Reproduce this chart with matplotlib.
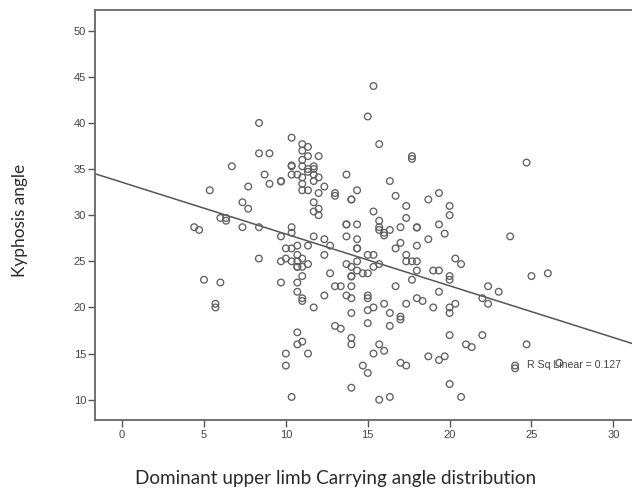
import matplotlib
matplotlib.use('Agg')
import matplotlib.pyplot as plt

# carrying angle / kyphosis angle
carrying = [8.36, 10.35, 11, 11.35, 11, 11.35, 12, 8.36, 9, 11, 6.7, 10.35, 10.35, 11, 11.7, 11.7, 11.35,
            11.35, 11.7, 8.7, 10.35, 10.7, 13.7, 12, 11, 11.7, 9.7, 9.7, 9, 7.7, 12.35, 11, 5.35, 11, 11.35,
            12, 13, 13, 7.35, 11.7, 7.7, 12, 11.7, 12, 14, 13.7, 6, 6.35, 6.35, 4.4, 4.7, 7.35, 8.36, 10.35,
            10.35, 9.7, 11.7, 12.35, 13.7,
            12.7, 11.35, 10.7, 10, 10.35, 12.35, 10.7, 8.35, 10, 11, 9.7, 10.35, 10.7, 10.7, 11.35, 13.7,
            10.7, 11, 12.7, 11, 9.7, 10.7, 13, 13.35, 5, 6, 10.7, 12.35, 13.7, 11, 11, 11.7, 5.7, 5.7, 13,
            13.35, 10.7, 11, 10.7, 10, 11.35, 10, 10.35,
            15.35, 15, 15.7, 17.7, 17.7, 24.7, 16.35, 14.35, 14, 16.7, 17.35, 18.7, 19.35, 20, 20, 15.35,
            17.35, 15.7, 15.7, 15.7, 16, 16, 16.35, 17, 18, 18, 19.35, 19.7, 23.7, 13.7, 14.35, 14.35, 17,
            18.7, 14.35, 14.35, 16.7, 18, 15, 15.35, 17.35, 17.35, 17.7, 18, 20.35, 20.7, 14.35, 14, 15.7,
            15.35, 14.35, 14.7, 15, 14, 14, 18, 19, 19.35, 17.7, 20, 20, 26, 25, 14, 16.7, 22.35, 23, 19.35,
            14, 15, 15, 22, 18, 18.35, 22.35, 20.35, 16, 17.35, 19, 20, 15.35, 15, 14, 16.35, 20, 17, 17,
            15, 16.35, 20, 22, 14, 14, 15.7, 16, 21, 21.35, 24.7, 15.35, 18.7, 19.35, 19.7, 17, 17.35, 26.7,
            24, 24, 14.7, 15, 14, 20, 15.7, 16.35, 20.7]
kyphosis = [40, 38.4, 37.7, 37.4, 37, 36.4, 36.4, 36.7, 36.7, 36, 35.3, 35.3, 35.4, 35.3, 35.3, 35, 35,
            34.7, 34.4, 34.4, 34.4, 34.4, 34.4, 34.1, 34.1, 33.7, 33.7, 33.65, 33.4, 33.1, 33.1, 33.4, 32.7,
            32.7, 32.7, 32.4, 32.4, 32.1, 31.4, 31.4, 30.7, 30.7, 30.4, 30, 31.7, 29, 29.7, 29.7, 29.4, 28.7,
            28.4, 28.7, 28.7, 28.7, 28.1, 27.7, 27.7, 27.4, 27.7,
            26.7, 26.7, 26.7, 26.4, 26.4, 25.7, 25.7, 25.3, 25.3, 25.3, 25, 25, 25, 24.4, 24.7, 24.7,
            24.4, 24.4, 23.7, 23.4, 22.7, 22.7, 22.3, 22.3, 23, 22.7, 21.7, 21.3, 21.3, 21, 20.7, 20, 20.4,
            20, 18, 17.7, 17.3, 16.3, 16, 15, 15, 13.7, 10.3,
            44, 40.7, 37.7, 36.4, 36.1, 35.7, 33.7, 32.7, 31.7, 32.1, 31, 31.7, 32.4, 31, 30, 30.4,
            29.7, 29.4, 28.7, 28.4, 28.1, 27.8, 28.4, 28.7, 28.7, 28.65, 29, 28, 27.7, 29, 29, 27.4, 27,
            27.4, 26.4, 26.4, 26.4, 26.7, 25.7, 25.7, 25.7, 25, 25, 25, 25.3, 24.7, 25, 24.4, 24.7,
            24.4, 24, 23.7, 23.7, 23.4, 23.35, 24, 24, 24, 23, 23.4, 23, 23.7, 23.4, 22.3, 22.3, 22.3, 21.7,
            21.7, 21, 21.3, 21, 21, 21, 20.7, 20.4, 20.4, 20.4, 20.4, 20, 20, 20, 19.7, 19.4, 19.4, 19.4, 19,
            18.7, 18.3, 18, 17, 17, 16.7, 16, 16, 15.3, 16, 15.7, 16, 15, 14.7, 14.3, 14.7, 14, 13.7, 14,
            13.7, 13.4, 13.7, 12.9, 11.3, 11.7, 10, 10.3, 10.3]

fit_x = [-1.64, 31.14]
fit_y = [34.48, 16.1]
x_ticks = [0, 5, 10, 15, 20, 25, 30]
y_ticks = [10, 15, 20, 25, 30, 35, 40, 45, 50]

plt.rcParams['font.family'] = ['Liberation Sans', 'DejaVu Sans']

fig = plt.figure(figsize=(6.32, 4.9), dpi=100)
ax = fig.add_axes([95.3 / 632, 70 / 490, (632 - 95.3) / 632, 410 / 490])

ax.scatter(carrying, kyphosis, s=23, facecolors='none', edgecolors='#606060', linewidths=0.95, zorder=3)
ax.plot(fit_x, fit_y, color='#555555', lw=1.1, zorder=2)

ax.set_xlim(-1.64, 31.14)
ax.set_ylim(7.8, 52.24)
ax.set_xticks(x_ticks)
ax.set_yticks(y_ticks)
ax.tick_params(length=5, width=1, color='#555555', labelcolor='#444444', labelsize=8, pad=1.5)
ax.tick_params(axis='x', pad=2.5)

for side in ['left', 'top', 'bottom']:
    ax.spines[side].set_color('#666666')
    ax.spines[side].set_linewidth(1.3)
ax.spines['right'].set_visible(False)

ax.text(24.7, 13.8, 'R Sq Linear = 0.127', fontsize=7.6, color='#444444', va='center', ha='left', zorder=4)

fig.text(20 / 632, 1 - 220 / 490, 'Kyphosis angle', rotation=90, fontsize=12.4, family=['Lato', 'DejaVu Sans'],
         color='#2a2a2a', ha='center', va='center')
# baseline kept a little high so the descenders stay inside the figure
fig.text(336 / 632, 1 - 484 / 490, 'Dominant upper limb Carrying angle distribution', fontsize=13.6,
         family=['Lato', 'DejaVu Sans'], color='#2a2a2a', ha='center', va='baseline')

fig.savefig('out.png', dpi=100)
